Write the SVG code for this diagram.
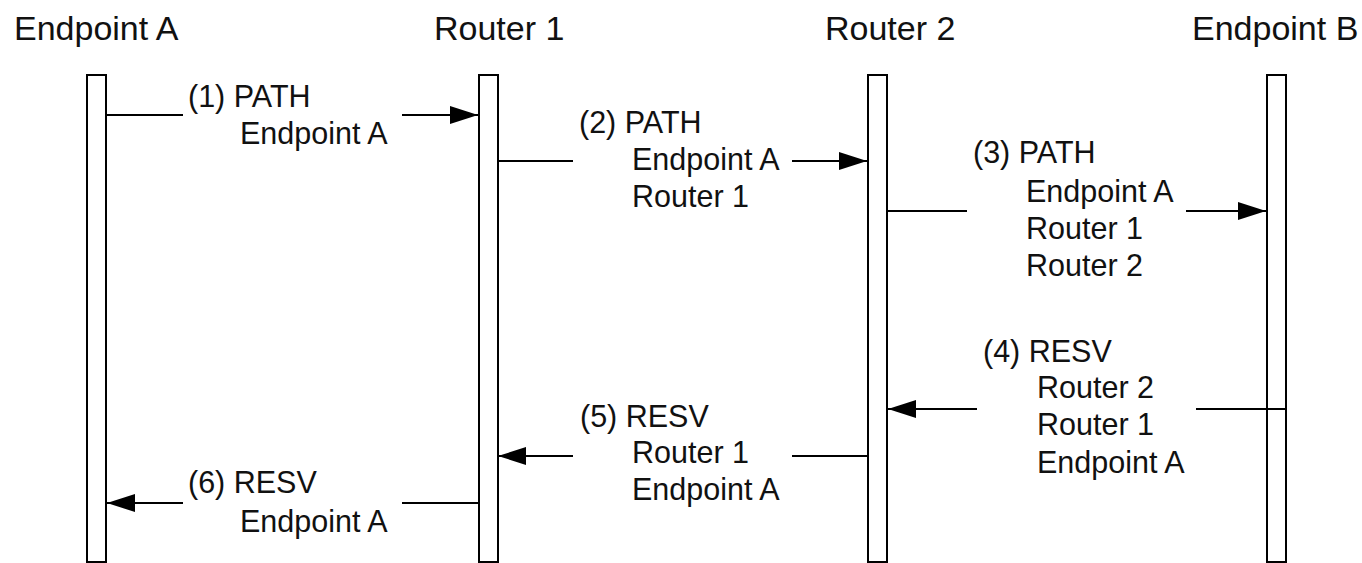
<svg xmlns="http://www.w3.org/2000/svg" width="1362" height="563" viewBox="0 0 1362 563">
<style>
.hdr{font-family:"Liberation Sans",Arial,sans-serif;font-size:34px;fill:#111}
.lbl{font-family:"Liberation Sans",Arial,sans-serif;font-size:30.5px;fill:#111}
.bar{fill:#fff;stroke:#000;stroke-width:2}
.ln{stroke:#000;stroke-width:2;fill:none}
</style>
<defs>
<marker id="ah" viewBox="0 0 28 18" refX="28" refY="9" markerWidth="28" markerHeight="18" markerUnits="userSpaceOnUse" orient="auto">
<path d="M0,0 L28,9 L0,18 Z" fill="#000"/>
</marker>
</defs>
<rect width="1362" height="563" fill="#fff"/>
<g id="endpointA">
<text class="hdr" x="14" y="40">Endpoint A</text>
<rect class="bar" x="87" y="75" width="19" height="487"/>
</g>
<g id="router1">
<text class="hdr" x="434" y="40">Router 1</text>
<rect class="bar" x="479" y="75" width="19" height="487"/>
</g>
<g id="router2">
<text class="hdr" x="825" y="40">Router 2</text>
<rect class="bar" x="868" y="75" width="19" height="487"/>
</g>
<g id="endpointB">
<text class="hdr" x="1192" y="40">Endpoint B</text>
<rect class="bar" x="1267" y="75" width="19" height="487"/>
</g>
<g id="connectors">
<line class="ln" x1="106" y1="115" x2="183" y2="115"/>
<line class="ln" x1="402" y1="115" x2="478" y2="115" marker-end="url(#ah)"/>
<line class="ln" x1="498" y1="161" x2="573" y2="161"/>
<line class="ln" x1="792" y1="161" x2="867" y2="161" marker-end="url(#ah)"/>
<line class="ln" x1="887" y1="211" x2="967" y2="211"/>
<line class="ln" x1="1186" y1="211" x2="1266" y2="211" marker-end="url(#ah)"/>
<line class="ln" x1="1286" y1="409" x2="1196" y2="409"/>
<line class="ln" x1="977" y1="409" x2="888" y2="409" marker-end="url(#ah)"/>
<line class="ln" x1="868" y1="456" x2="792" y2="456"/>
<line class="ln" x1="573" y1="456" x2="498" y2="456" marker-end="url(#ah)"/>
<line class="ln" x1="479" y1="503" x2="402" y2="503"/>
<line class="ln" x1="183" y1="503" x2="107" y2="503" marker-end="url(#ah)"/>
</g>
<g id="labels">
<text class="lbl" x="188" y="107">(1) PATH</text>
<text class="lbl" x="240" y="144">Endpoint A</text>
<text class="lbl" x="579" y="133">(2) PATH</text>
<text class="lbl" x="632" y="170">Endpoint A</text>
<text class="lbl" x="632" y="207">Router 1</text>
<text class="lbl" x="973" y="163">(3) PATH</text>
<text class="lbl" x="1026" y="202">Endpoint A</text>
<text class="lbl" x="1026" y="239">Router 1</text>
<text class="lbl" x="1026" y="276">Router 2</text>
<text class="lbl" x="983" y="362">(4) RESV</text>
<text class="lbl" x="1037" y="398">Router 2</text>
<text class="lbl" x="1037" y="435">Router 1</text>
<text class="lbl" x="1037" y="473">Endpoint A</text>
<text class="lbl" x="580" y="427">(5) RESV</text>
<text class="lbl" x="632" y="463">Router 1</text>
<text class="lbl" x="632" y="500">Endpoint A</text>
<text class="lbl" x="188" y="493">(6) RESV</text>
<text class="lbl" x="240" y="532">Endpoint A</text>
</g>
</svg>
